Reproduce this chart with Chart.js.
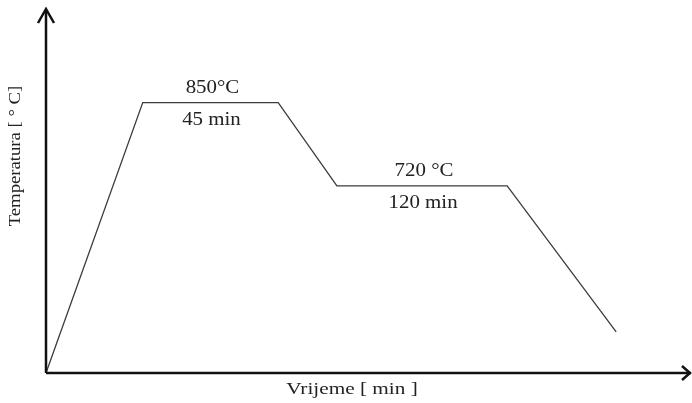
<!DOCTYPE html>
<html>
<head>
<meta charset="utf-8">
<script src="https://cdn.jsdelivr.net/npm/chart.js@4.4.0/dist/chart.umd.min.js"></script>
<style>
  html, body { margin: 0; padding: 0; background: #fff; }
  #wrap { width: 692px; height: 403px; }
</style>
</head>
<body>
<div id="wrap"><canvas id="myChart" width="692" height="403"></canvas></div>
<script>
// time axis in relative units (0-100), temperature in relative units (0-100)
const timeValues = [0, 15.0, 36.0, 45.1, 71.5, 88.4];
const tempValues = [0, 74.3, 74.3, 51.4, 51.4, 11.3];

// plateau annotations: [start index, end index]
const plateaus = [[1, 2], [3, 4]];
const tempLabels = ['850°C', '720 °C'];
const timeLabels = ['45 min', '120 min'];

const xTitle = 'Vrijeme [ min ]';
const yTitle = 'Temperatura [ ° C]';

const points = timeValues.map((t, i) => ({ x: t, y: tempValues[i] }));

// text drawn slightly wider than the font, like the original
const stretchText = (ctx, text, x, y, sx) => {
  ctx.save();
  ctx.translate(x, y);
  ctx.scale(sx, 1);
  ctx.fillText(text, 0, 0);
  ctx.restore();
};

const axesPlugin = {
  id: 'axes',
  afterDraw(chart) {
    const ctx = chart.ctx;
    const { left, right, top, bottom } = chart.chartArea;
    const xs = chart.scales.x;
    const ys = chart.scales.y;
    ctx.save();

    // axes with arrows
    ctx.strokeStyle = '#111';
    ctx.lineWidth = 2.5;
    ctx.beginPath();
    ctx.moveTo(left, bottom);
    ctx.lineTo(left, top + 1);
    ctx.moveTo(left, bottom);
    ctx.lineTo(right, bottom);
    ctx.stroke();

    ctx.lineJoin = 'miter';
    ctx.beginPath();
    ctx.moveTo(left - 8, top + 14);
    ctx.lineTo(left, top);
    ctx.lineTo(left + 8, top + 14);
    ctx.moveTo(right - 9, bottom - 7);
    ctx.lineTo(right - 1, bottom);
    ctx.lineTo(right - 9, bottom + 7);
    ctx.stroke();

    // plateau labels
    ctx.fillStyle = '#222';
    ctx.font = '19px "Liberation Serif", serif';
    ctx.textAlign = 'center';
    ctx.textBaseline = 'middle';
    plateaus.forEach(([a, b], i) => {
      const cx = xs.getPixelForValue((timeValues[a] + timeValues[b]) / 2);
      const py = ys.getPixelForValue(tempValues[a]);
      stretchText(ctx, tempLabels[i], cx + 2, py - 15, 1.1);
      stretchText(ctx, timeLabels[i], cx + 1, py + 17, 1.1);
    });

    // axis titles
    ctx.font = '17px "Liberation Serif", serif';
    stretchText(ctx, xTitle, 352, 390, 1.25);
    ctx.translate(16, 156);
    ctx.rotate(-Math.PI / 2);
    stretchText(ctx, yTitle, 0, 0, 1.1);
    ctx.restore();
  }
};

new Chart(document.getElementById('myChart'), {
  type: 'line',
  data: {
    datasets: [
      {
        data: points,
        borderColor: '#3c3c3c',
        borderWidth: 1.3,
        pointRadius: 0,
        tension: 0,
        fill: false,
      },
    ],
  },
  options: {
    responsive: false,
    animation: false,
    layout: { padding: { left: 46, top: 9, right: 1, bottom: 30 } },
    plugins: { legend: { display: false }, tooltip: { enabled: false } },
    scales: {
      x: { type: 'linear', min: 0, max: 100, display: false },
      y: { type: 'linear', min: 0, max: 100, display: false },
    },
  },
  plugins: [axesPlugin],
});
</script>
</body>
</html>
